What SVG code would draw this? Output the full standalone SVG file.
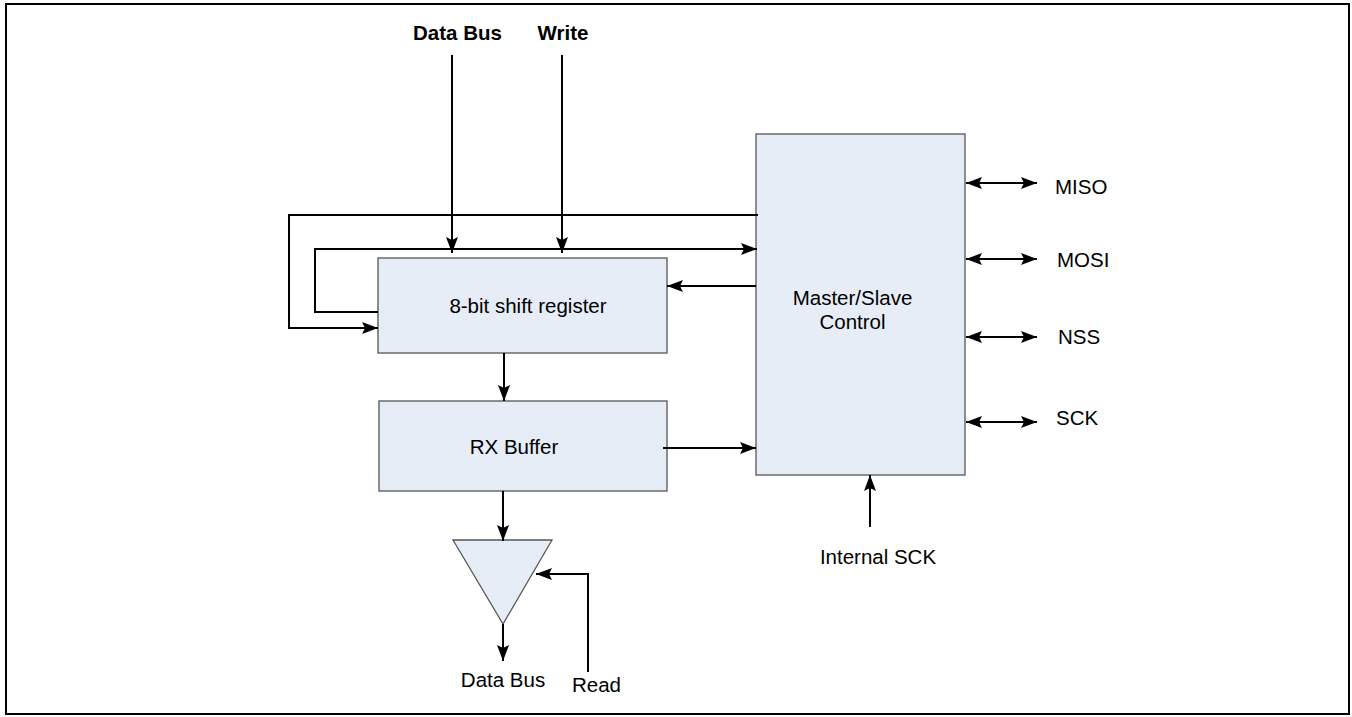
<svg xmlns="http://www.w3.org/2000/svg" width="1352" height="717" viewBox="0 0 1352 717">
<style>
.box{fill:#E7EDF7;stroke:#555;stroke-width:1.3}
.wire{fill:none;stroke:#000;stroke-width:2}
.t{font-family:"Liberation Sans",Arial,sans-serif;font-size:20.5px;fill:#000}
.b{font-weight:bold}
</style>
<defs>
<marker id="ah" markerUnits="userSpaceOnUse" markerWidth="17" markerHeight="14" refX="16" refY="7" orient="auto-start-reverse">
<path d="M0,1 L16,7 L0,13 L3,7 z" fill="#000"/>
</marker>
</defs>
<rect x="6" y="4" width="1343" height="710" fill="#fff" stroke="#000" stroke-width="2"/>
<g id="shift-register"><rect class="box" x="378" y="258" width="289" height="95"/><text class="t" x="528" y="313" text-anchor="middle">8-bit shift register</text></g>
<g id="rx-buffer"><rect class="box" x="379" y="401" width="288" height="90"/><text class="t" x="514" y="454" text-anchor="middle">RX Buffer</text></g>
<g id="master-slave"><rect class="box" x="756" y="134" width="209" height="341"/><text class="t" x="852.5" y="305" text-anchor="middle">Master/Slave</text><text class="t" x="852.5" y="329" text-anchor="middle">Control</text></g>
<g id="tri-buffer"><polygon class="box" points="453,540 552,540 503,624"/></g>
<g id="labels">
<text class="t b" x="457.5" y="40" text-anchor="middle">Data Bus</text>
<text class="t b" x="563" y="40" text-anchor="middle">Write</text>
<text class="t" x="503" y="687" text-anchor="middle">Data Bus</text>
<text class="t" x="596.5" y="692" text-anchor="middle">Read</text>
<text class="t" x="878" y="564" text-anchor="middle">Internal SCK</text>
<text class="t" x="1055" y="194">MISO</text>
<text class="t" x="1057" y="267">MOSI</text>
<text class="t" x="1058" y="344">NSS</text>
<text class="t" x="1056" y="425">SCK</text>
</g>
<g id="connectors">
<path class="wire" d="M452,55 V253" marker-end="url(#ah)"/>
<path class="wire" d="M562,55 V253" marker-end="url(#ah)"/>
<path class="wire" d="M758,215 H289 V328 H378" marker-end="url(#ah)"/>
<path class="wire" d="M378,312 H315 V249 H757" marker-end="url(#ah)"/>
<path class="wire" d="M756,286 H667" marker-end="url(#ah)"/>
<path class="wire" d="M504,353 V401" marker-end="url(#ah)"/>
<path class="wire" d="M663,448 H756" marker-end="url(#ah)"/>
<path class="wire" d="M503,491 V541" marker-end="url(#ah)"/>
<path class="wire" d="M503,624 V661" marker-end="url(#ah)"/>
<path class="wire" d="M588,672 V574 H536" marker-end="url(#ah)"/>
<path class="wire" d="M870,527 V475" marker-end="url(#ah)"/>
<path class="wire" d="M966,183 H1037" marker-start="url(#ah)" marker-end="url(#ah)"/>
<path class="wire" d="M966,259 H1037" marker-start="url(#ah)" marker-end="url(#ah)"/>
<path class="wire" d="M966,337 H1037" marker-start="url(#ah)" marker-end="url(#ah)"/>
<path class="wire" d="M966,422 H1037" marker-start="url(#ah)" marker-end="url(#ah)"/>
</g>
</svg>
